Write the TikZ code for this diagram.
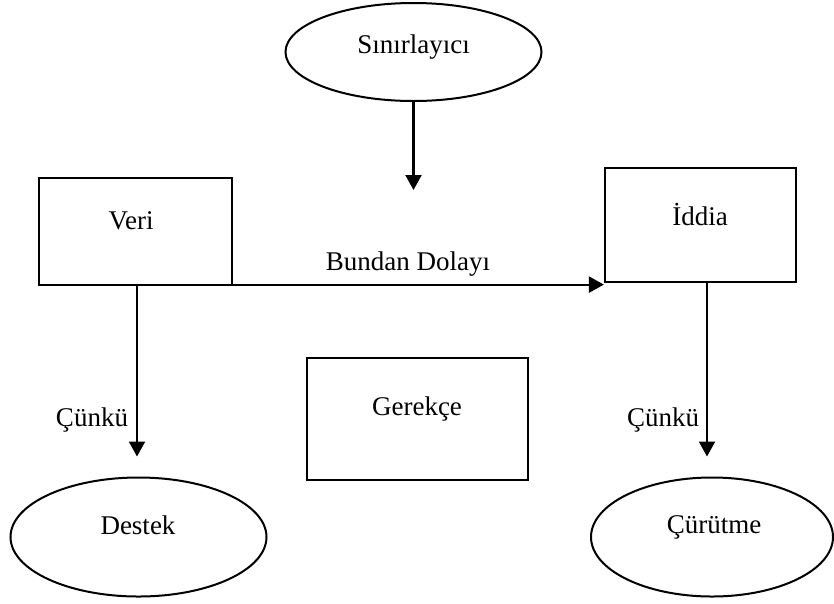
\documentclass[tikz,border=0pt]{standalone}
\usepackage{fontspec}
\setmainfont{Liberation Serif}
\usetikzlibrary{shapes.geometric,arrows.meta}
\begin{document}
\begin{tikzpicture}[x=1pt,y=-1pt,
  font=\fontsize{27}{30}\selectfont,
  box/.style={draw,line width=2.2pt,inner sep=0pt},
  oval/.style={draw,ellipse,line width=2pt,inner sep=0pt},
  lbl/.style={anchor=base,inner sep=0pt},
  arr/.style={line width=2.2pt,-{Triangle[length=15pt,width=16pt]}}]
\useasboundingbox (0,0) rectangle (834,603);

% shapes
\node[oval,minimum width=256pt,minimum height=98pt] (lim) at (413.5,52) {};
\node[box,minimum width=193pt,minimum height=107pt] (veri) at (135.5,231.5) {};
\node[box,minimum width=191pt,minimum height=114pt] (iddia) at (700.5,225) {};
\node[box,minimum width=221pt,minimum height=122pt] (ger) at (417.5,419) {};
\node[oval,minimum width=256pt,minimum height=119pt] (destek) at (138.5,537) {};
\node[oval,minimum width=242pt,minimum height=119pt] (curut) at (712,537) {};

% texts
\node[lbl] (limtxt) at (413.5,53) {Sınırlayıcı};
\node[lbl] (veritxt) at (131,229) {Veri};
\node[lbl] (iddiatxt) at (700,225) {İddia};
\node[lbl] (gertxt) at (417,415) {Gerekçe};
\node[lbl] (destxt) at (138,534) {Destek};
\node[lbl] (curtxt) at (714,533) {Çürütme};
\node[lbl] (bd) at (408,270) {Bundan Dolayı};
\node[lbl] (ck1) at (92,426) {Çünkü};
\node[lbl] (ck2) at (663,426) {Çünkü};

% connectors
\coordinate (limtip) at (413.5,190);
\draw[arr] (lim.south) -- (limtip);
\draw[arr] ([yshift=1.5pt]veri.south east) -- ([yshift=1.5pt]veri.south east -| iddia.west);
\draw[arr,shorten >=20pt] ([xshift=1.5pt]veri.south) -- ([xshift=1.5pt]veri.south |- destek.north);
\draw[arr,shorten >=20pt] ([xshift=6.5pt]iddia.south) -- ([xshift=6.5pt]iddia.south |- curut.north);
\end{tikzpicture}
\end{document}
